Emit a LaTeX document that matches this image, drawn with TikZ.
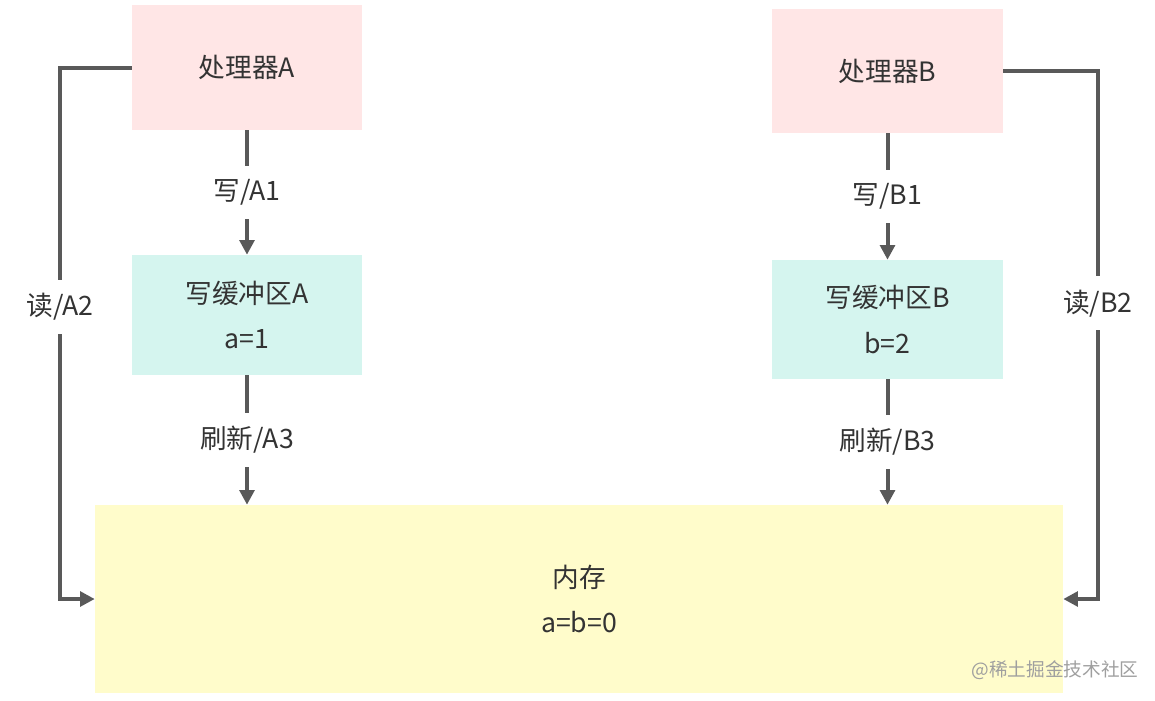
\documentclass[tikz,border=0pt]{standalone}
\usepackage{fontspec}
\setmainfont{Noto Sans CJK SC}
\usetikzlibrary{arrows.meta}

\definecolor{procfill}{HTML}{FFE6E6}
\definecolor{buffill}{HTML}{D5F5EF}
\definecolor{memfill}{HTML}{FFFCCB}
\definecolor{linegray}{HTML}{595959}
\definecolor{textgray}{HTML}{333333}

\tikzset{
  box/.style={draw=none, minimum width=172.5pt, inner sep=0pt, align=center,
    font=\fontsize{20}{34}\selectfont, text=textgray},
  conn/.style={draw=linegray, line width=3pt, -{Triangle[length=11pt,width=11pt]}},
  lbl/.style={fill=white, inner xsep=4pt, inner ysep=10pt, font=\fontsize{20}{24}\selectfont, text=textgray}
}

\begin{document}
\begin{tikzpicture}[x=0.75pt,y=-0.75pt]
\useasboundingbox (0,0) rectangle (1155,700);

\node[box, fill=procfill, minimum height=93.75pt] (procA) at (247,67.5) {处理器A};
\node[box, fill=buffill, minimum height=90pt] (bufA) at (247,315) {写缓冲区A\\a=1};
\node[box, fill=procfill, minimum height=93pt, minimum width=173.25pt] (procB) at (887.5,71) {处理器B};
\node[box, fill=buffill, minimum height=89.25pt, minimum width=173.25pt] (bufB) at (887.5,319.5) {写缓冲区B\\b=2};
\node[box, fill=memfill, minimum width=726pt, minimum height=141pt] (mem) at (579,599) {内存\\a=b=0};

\coordinate (la) at (60,67.5);
\coordinate (lb) at (60,599);
\coordinate (ra) at (1098,71);
\coordinate (rb) at (1098,599);

\draw[conn] (procA.south) -- node[lbl] {写/A1} (bufA.north);
\draw[conn] (procB.south) -- node[lbl] {写/B1} (bufB.north);
\draw[conn] (bufA.south) -- node[lbl] {刷新/A3} (bufA.south |- mem.north);
\draw[conn] (bufB.south) -- node[lbl] {刷新/B3} (bufB.south |- mem.north);

\draw[conn] (procA.west) -- (la) -- node[lbl, pos=0.45] {读/A2} (lb) -- (mem.west);
\draw[conn] (procB.east) -- (ra) -- node[lbl, pos=0.44] {读/B2} (rb) -- (mem.east);

% watermark
\node[text=gray!75, font=\fontsize{14}{16}\selectfont] (mark) at (1055,670) {@稀土掘金技术社区};
\end{tikzpicture}
\end{document}
